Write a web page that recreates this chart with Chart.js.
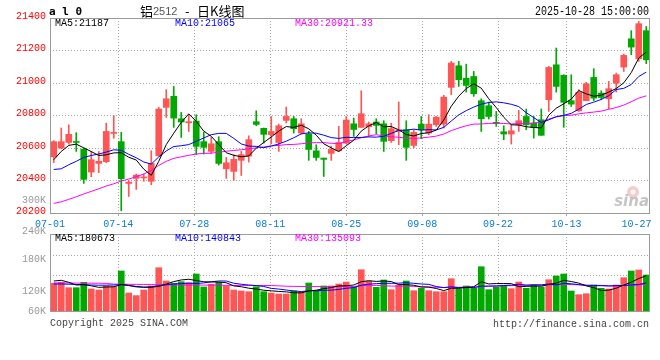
<!DOCTYPE html>
<html><head><meta charset="utf-8">
<script src="https://cdn.jsdelivr.net/npm/chart.js@4.4.1/dist/chart.umd.min.js"></script>
<style>
html,body{margin:0;padding:0;background:#fff;}
#wrap{position:relative;width:660px;height:360px;background:#fff;}
#wrap canvas{position:absolute;left:0;top:0;}
</style></head><body>
<div id="wrap"><canvas id="kline" width="660" height="360"></canvas><canvas id="vol" width="660" height="360"></canvas></div>
<script>
const categories = ['07-01','07-02','07-03','07-04','07-07','07-08','07-09','07-10','07-11','07-14','07-15','07-16','07-17','07-18','07-21','07-22','07-23','07-24','07-25','07-28','07-29','07-30','07-31',
'08-01','08-04','08-05','08-06','08-07','08-08','08-11','08-12','08-13','08-14','08-15','08-18','08-19','08-20','08-21','08-22','08-25','08-26','08-27','08-28','08-29',
'09-01','09-02','09-03','09-04','09-05','09-08','09-09','09-10','09-11','09-12','09-15','09-16','09-17','09-18','09-19','09-22','09-23','09-24','09-25','09-26','09-29','09-30',
'10-09','10-10','10-13','10-14','10-15','10-16','10-17','10-20','10-21','10-22','10-23','10-24','10-27','10-28'];

const openP  = [20546,20600,20634,20638,20593,20452,20505,20516,20690,20639, 20382,20413,20416,20395,20552,20850,20918,20780,20755,20766, 20639,20579,20639,20472,20456,20524,20550,20762,20721,20682, 20634,20770,20780,20692,20686,20583,20538,20567,20583,20630, 20749,20727,20731,20760,20749,20645,20702,20712,20616,20747, 20692,20743,20747,20973,21106,21029,21040,20891,20860,20758, 20700,20686,20743,20794,20753,20774,20897,21112,21047,20891, 20829,20891,21034,20938,20903,20999,21098,21272,21149,21322];
const highP  = [20645,20723,20743,20694,20600,20579,20579,20753,20799,20696, 20400,20440,20440,20583,20850,20959,20979,20819,20805,20805, 20698,20665,20669,20542,20559,20579,20675,20829,20723,20794, 20747,20852,20794,20780,20702,20620,20538,20612,20733,20794, 20784,20952,20760,20780,20768,20753,20883,20768,20712,20794, 20805,20794,20924,21133,21133,21116,21071,20903,20883,20825, 20737,20743,20831,20840,20794,20840,21102,21215,21051,21051, 20959,21004,21088,20952,21010,21061,21178,21322,21379,21348];
const lowP   = [20510,20595,20624,20579,20382,20423,20448,20509,20660,20214, 20302,20345,20395,20374,20550,20788,20727,20665,20702,20559, 20563,20567,20495,20413,20401,20431,20513,20737,20630,20626, 20579,20754,20692,20686,20524,20524,20425,20524,20579,20626, 20671,20727,20671,20688,20579,20634,20620,20524,20600,20657, 20682,20733,20723,20928,20979,20944,20918,20702,20778,20733, 20651,20624,20702,20712,20661,20678,20825,20944,20727,20856, 20825,20891,20891,20897,20842,20944,21071,21174,21133,21119];
const closeP = [20639,20639,20684,20634,20407,20528,20518,20702,20696,20411, 20390,20433,20422,20505,20840,20903,20784,20760,20762,20610, 20604,20626,20505,20509,20530,20559,20651,20745,20684,20702, 20737,20794,20719,20749,20591,20542,20530,20591,20634,20772, 20714,20811,20749,20739,20641,20719,20712,20604,20696,20712, 20747,20790,20913,21123,21020,20985,20934,20780,20794,20750, 20686,20706,20768,20743,20727,20678,21096,20979,20881,20870, 20942,20995,20907,20911,20965,21051,21170,21221,21365,21143];

const ma5  = [20528,20579,20616,20624,20601,20578,20554,20558,20570,20571, 20543,20526,20470,20432,20518,20621,20691,20758,20810,20764, 20704,20672,20621,20571,20555,20546,20551,20599,20634,20668, 20704,20732,20727,20740,20718,20679,20626,20601,20578,20614, 20648,20704,20736,20757,20731,20732,20712,20683,20674,20689, 20694,20710,20772,20857,20919,20966,20995,20968,20903,20849, 20789,20743,20741,20731,20726,20724,20802,20845,20872,20901, 20954,20933,20919,20925,20944,20966,21001,21064,21154,21190];
const ma10 = [20468,20472,20497,20518,20542,20554,20563,20575,20589,20586, 20561,20540,20514,20501,20545,20582,20609,20614,20621,20641, 20662,20682,20690,20690,20659,20625,20612,20610,20602,20612, 20625,20642,20663,20687,20693,20691,20679,20664,20659,20666, 20664,20665,20668,20667,20672,20690,20708,20710,20716,20710, 20713,20711,20727,20766,20804,20830,20852,20870,20880,20884, 20878,20869,20855,20817,20787,20757,20773,20793,20801,20813, 20839,20868,20882,20899,20922,20960,20967,20991,21040,21067];
const ma30 = [20259,20269,20284,20300,20317,20333,20349,20366,20380,20397, 20409,20423,20440,20462,20493,20518,20536,20546,20555,20563, 20567,20568,20574,20580,20585,20589,20595,20601,20606,20613, 20616,20621,20622,20626,20632,20633,20633,20629,20627,20639, 20650,20663,20674,20682,20675,20669,20666,20661,20659,20662, 20667,20673,20686,20707,20723,20737,20747,20748,20751,20753, 20751,20748,20750,20750,20754,20759,20778,20791,20799,20802, 20810,20816,20821,20827,20838,20849,20864,20885,20907,20921];

const volume = [141300,146400,118800,118800,146400,112200,107100,127500,123900,204000, 91800,78000,107100,127500,220800,153000,141300,149400,144300,188700, 122400,136200,146400,127500,107100,102000,98400,123900,98400,91800, 86700,86700,102000,95400,142800,103500,127500,127500,137700,147900, 122400,210600,153000,120900,158100,108600,132600,153000,103500,115800, 103500,98400,98400,164700,112200,127500,115800,225900,108600,122400, 127500,113700,147900,115800,132600,122400,159600,178500,188700,102000, 83100,88200,132600,115800,112200,132600,169800,204000,209100,183600];
const volMa5  = [153000,156570,146370,132600,134330,128520,120670,122400,123420,134950, 130870,125050,120970,121690,125050,137290,149940,158410,161770,155350, 149230,148210,147590,144230,127910,123830,116280,111790,105980,102920, 99860,97510,93130,92510,102710,106080,114240,119340,127810,128830, 132600,149230,154330,150960,153000,150250,134640,134640,131170,122710, 121690,114850,103940,116180,115460,120260,123730,149230,138010,140050, 140050,139640,124030,125460,127500,126480,135660,141780,156370,150250, 142390,128110,118930,104350,106390,116280,132600,146880,165550,179830];
const volMa10 = [137700,137700,136680,135150,134130,132600,131580,131580,132600,134640, 129690,122860,121690,122550,130000,134080,137500,139690,141730,140200, 143260,149070,153000,153000,141630,136530,132240,129690,125100,115410, 111840,106900,102460,99250,102820,102970,105880,106230,110160,115770, 119340,131730,136830,139380,140910,141420,141930,144480,141070,137850, 135970,124750,119290,123680,119090,120970,119290,126580,127090,127760, 130150,131680,136630,131730,133770,133260,137650,132910,140910,138870, 134440,131890,130360,130360,128320,129340,130360,132910,134950,143110];
const volMa30 = [143310,142800,142800,142290,142290,141780,141780,140760,137190,136680, 136170,135660,135660,135150,133620,133110,133110,132600,132600,132600, 132090,132090,131580,131070,130560,130560,130560,130050,130050,130100, 128270,126280,125720,124950,124800,124540,125210,125210,125660,123780, 124800,129230,130760,130560,128470,126990,126680,126790,125460,123010, 122400,121130,119540,120770,120920,121790,122350,125770,126120,127140, 128470,129390,130920,131580,131270,131890,132960,134640,136370,134840, 133520,129440,128780,128570,127040,127860,129080,130820,134230,136530];

const dateTickLabels = ['07-01','07-14','07-28','08-11','08-25','09-08','09-22','10-13','10-27'];
const priceTicks = [20200,20400,20600,20800,21000,21200,21400];
const volTickLabels = ['240K','180K','120K','60K'];
const volGridValues = [78000,180000,282000];
const mainLegend = ['MA5:21187','MA10:21065','MA30:20921.33'];
const volLegend = ['MA5:180673','MA10:140843','MA30:135093'];
const extraPriceLabel = '300K';

const RED = '#ff5555', GREEN = '#00a800', GRID = '#a8a8a8', FRAME = '#9a9a9a';
const MONO = '"Liberation Mono", "DejaVu Sans Mono", monospace';
const candleColors = closeP.map((c, i) => c >= openP[i] ? RED : GREEN);
const tickIdx = dateTickLabels.map(d => categories.indexOf(d));
const lastIdx = categories.length - 1;

function txt(ctx, s, x, y, o) {
  o = o || {};
  ctx.save();
  ctx.font = o.font || ('10px ' + MONO);
  ctx.fillStyle = o.color || '#000';
  ctx.textAlign = o.align || 'left';
  ctx.textBaseline = 'middle';
  ctx.translate(x, y);
  ctx.scale(o.sx || 1, o.sy || 1);
  ctx.fillText(s, 0, 0);
  ctx.restore();
}
function frame(chart) {
  const c = chart.ctx, a = chart.chartArea;
  c.save(); c.strokeStyle = FRAME; c.lineWidth = 1;
  c.strokeRect(a.left + 0.5, a.top + 0.5, a.right - a.left - 1, a.bottom - a.top);
  c.restore();
}
function dateAxis(showLabels, h) {
  return {
    type: 'linear', position: 'bottom', min: 0, max: lastIdx, offset: false,
    afterBuildTicks: s => { s.ticks = tickIdx.map(v => ({ value: v })); },
    ticks: {
      display: showLabels, autoSkip: false, maxRotation: 0, minRotation: 0, padding: 2,
      color: '#0b7bd6', font: { family: MONO, size: 10 },
      callback: (v, i) => i === tickIdx.length - 1 ? dateTickLabels[i] + '  ' : dateTickLabels[i]
    },
    grid: {
      offset: false,
      color: ctx => (ctx.tick && (ctx.tick.value === 0 || ctx.tick.value === tickIdx[tickIdx.length - 1])) ? 'rgba(0,0,0,0)' : GRID,
      drawTicks: showLabels, tickLength: 3, lineWidth: 1
    },
    border: { display: false, dash: [1, 2] },
    afterFit: s => { s.height = h; s.paddingLeft = 0; s.paddingRight = 0; }
  };
}
const common = {
  responsive: false, maintainAspectRatio: false, animation: false, devicePixelRatio: 1,
  plugins: { legend: { display: false }, tooltip: { enabled: false } },
  events: []
};
const lineDs = (data, color) => ({ type: 'line', data, borderColor: color, borderWidth: 1, pointRadius: 0, tension: 0, fill: false, order: 0, xAxisID: 'x', yAxisID: 'y' });

const mainPlugin = {
  id: 'mainText',
  beforeDatasetsDraw(chart) {
    const c = chart.ctx, a = chart.chartArea;
    c.save();
    c.fillStyle = 'rgba(240,140,140,0.45)';
    c.beginPath(); c.arc(a.right - 17, a.bottom - 21, 6, 0, Math.PI * 2); c.fill();
    c.fillStyle = '#fff';
    c.beginPath(); c.arc(a.right - 17, a.bottom - 21, 2.5, 0, Math.PI * 2); c.fill();
    c.restore();
    txt(c, 'sina', a.right - 1, a.bottom - 11, { font: 'italic bold 15px "DejaVu Sans"', color: 'rgba(150,150,150,0.55)', align: 'right' });
  },
  afterDraw(chart) {
    const c = chart.ctx;
    frame(chart);
    txt(c, 'a l 0', 49, 12, { font: 'bold 11px "DejaVu Sans Mono"' });
    txt(c, '铝', 140, 11, { font: '13px "Noto Sans CJK SC"' });
    txt(c, '2512', 153, 11.5, { font: '11px "Liberation Sans"', color: '#555' });
    txt(c, '-', 185, 11, { font: '13px "Noto Sans CJK SC"' });
    txt(c, '日K线图', 197, 11, { font: '13px "Noto Sans CJK SC"' });
    txt(c, '2025-10-28 15:00:00', 649, 11.5, { align: 'right', sy: 1.3 });
    txt(c, mainLegend[0], 55, 23.5, { color: '#000' });
    txt(c, mainLegend[1], 175, 23.5, { color: '#0000ff' });
    txt(c, mainLegend[2], 295, 23.5, { color: '#ff00ff' });
    txt(c, extraPriceLabel, 46, 200, { align: 'right', color: '#999' });
  }
};

new Chart(document.getElementById('kline'), {
  type: 'bar',
  data: {
    labels: categories,
    datasets: [
      lineDs(ma5, '#000000'), lineDs(ma10, '#0000ff'), lineDs(ma30, '#ff00ff'),
      { type: 'bar', data: openP.map((o, i) => [o, closeP[i]]), backgroundColor: candleColors, barThickness: 6, minBarLength: 1, grouped: false, order: 1, xAxisID: 'x', yAxisID: 'y' },
      { type: 'bar', data: lowP.map((l, i) => [l, highP[i]]), backgroundColor: candleColors, barThickness: 1, grouped: false, order: 2, xAxisID: 'x', yAxisID: 'y' }
    ]
  },
  options: Object.assign({}, common, {
    layout: { padding: { left: 0, right: 10, top: 18, bottom: 128 } },
    scales: {
      x: { type: 'category', display: false, offset: true },
      xd: dateAxis(true, 19),
      y: {
        min: 20200, max: 21400,
        afterBuildTicks: s => { s.ticks = priceTicks.map(v => ({ value: v })); },
        ticks: { color: '#ff0000', font: { family: MONO, size: 10 }, padding: 4, labelOffset: -2, callback: v => String(v) },
        grid: { color: GRID, drawTicks: false, lineWidth: 1 },
        border: { display: false, dash: [1, 2] },
        afterFit: s => { s.width = 50; s.paddingTop = 0; s.paddingBottom = 0; }
      }
    }
  }),
  plugins: [mainPlugin]
});

const volPlugin = {
  id: 'volText',
  afterDraw(chart) {
    const c = chart.ctx;
    frame(chart);
    txt(c, volLegend[0], 55, 238.7, { color: '#000' });
    txt(c, volLegend[1], 175, 238.7, { color: '#0000ff' });
    txt(c, volLegend[2], 295, 238.7, { color: '#ff00ff' });
    const ys = [231, 259, 291, 311.5];
    volTickLabels.forEach((s, i) => txt(c, s, 46, ys[i], { align: 'right', color: '#999' }));
    txt(c, 'Copyright 2025 SINA.COM', 50, 323.5, { color: '#444' });
    txt(c, 'http://finance.sina.com.cn', 649, 324, { align: 'right', color: '#444' });
  }
};

new Chart(document.getElementById('vol'), {
  type: 'bar',
  data: {
    labels: categories,
    datasets: [
      lineDs(volMa5, '#000000'), lineDs(volMa10, '#0000ff'), lineDs(volMa30, '#ff00ff'),
      { type: 'bar', data: volume, backgroundColor: candleColors, barThickness: 6, grouped: false, order: 1, xAxisID: 'x', yAxisID: 'y' }
    ]
  },
  options: Object.assign({}, common, {
    layout: { padding: { left: 0, right: 10, top: 234, bottom: 49 } },
    scales: {
      x: { type: 'category', display: false, offset: true },
      xd: dateAxis(false, 0),
      y: {
        min: 0, max: 392700,
        afterBuildTicks: s => { s.ticks = volGridValues.map(v => ({ value: v })); },
        ticks: { display: false },
        grid: { color: GRID, drawTicks: false, lineWidth: 1 },
        border: { display: false, dash: [1, 2] },
        afterFit: s => { s.width = 50; s.paddingTop = 0; s.paddingBottom = 0; }
      }
    }
  }),
  plugins: [volPlugin]
});
</script>
</body></html>
